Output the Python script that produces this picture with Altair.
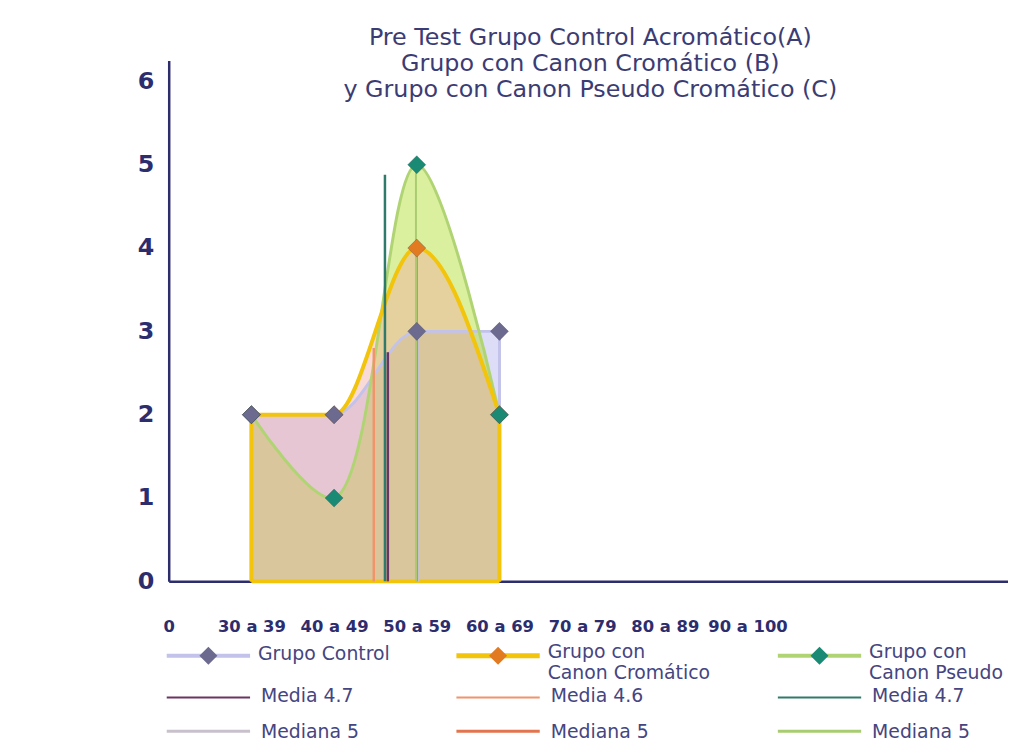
import json
import altair as alt
import pandas as pd

# ---------------- data ----------------
x_labels = ["0", "30 a 39", "40 a 49", "50 a 59", "60 a 69", "70 a 79", "80 a 89", "90 a 100"]
x_index = [1, 2, 3, 4]
control_vals = [2, 2, 3, 3]
cromatico_vals = [2, 2, 4, 2]
pseudo_vals = [2, 1, 5, 2]

mean_labels = ["Media 4.7", "Media 4.6", "Media 4.7"]
mean_pos = [2.65, 2.48, 2.615]
mean_top = [2.75, 2.8, 4.88]
median_labels = ["Mediana 5", "Mediana 5", "Mediana 5"]
median_pos = [3.02, 3.0, 2.99]
median_top = [3.0, 4.0, 4.95]

title_lines = ["Pre Test Grupo Control Acromático(A)",
               "Grupo con Canon Cromático (B)",
               "y Grupo con Canon Pseudo Cromático (C)"]
legend_group_text = [["Grupo Control"], ["Grupo con", "Canon Cromático"], ["Grupo con", "Canon Pseudo"]]

# ---------------- style ----------------
NAVY = "#2d2d6e"
TEXT = "#45457f"
line_col = ["#c2c2ea", "#f2c40c", "#b0d474"]
marker_col = ["#6d6a90", "#e27a22", "#1b8a74"]
fill_col = ["#c6c6f4", "#f2a8a0", "#afde28"]
fill_op = [0.6, 0.42, 0.45]
mean_col = ["#6a3464", "#f0946a", "#2f7a6a"]
median_col = ["#c8c0cc", "#e2744e", "#a8cc70"]
interp = ["monotone", "monotone", "catmull-rom"]

W, H = 846, 525
XMAX, YMAX = 10.15, 6.25
xs = alt.Scale(domain=[0, XMAX], nice=False, zero=False)
ys = alt.Scale(domain=[0, YMAX], nice=False)


def px_x(p):  # pixel offset from plot left -> data units
    return p / W * XMAX


def px_y(p):  # pixel offset from plot top -> data units
    return (H - p) / H * YMAX


x_axis = alt.Axis(values=list(range(8)),
                  labelExpr=json.dumps(x_labels) + "[datum.value]",
                  ticks=False, tickSize=0, labelPadding=38,
                  labelFont="DejaVu Sans", labelFontWeight="bold",
                  labelFontSize=16.5, labelColor=NAVY,
                  domainColor=NAVY, domainWidth=2.5, grid=False, title=None,
                  labelFlush=False, labelOverlap=False)
y_axis = alt.Axis(values=list(range(7)), ticks=False, tickSize=0, labelPadding=15,
                  labelFont="DejaVu Sans", labelFontWeight="bold", labelFontSize=24,
                  labelColor=NAVY, domainColor=NAVY, domainWidth=2.5, grid=False,
                  title=None, labelBaseline="middle")

X = alt.X("x:Q", scale=xs, axis=x_axis)
Y = alt.Y("y:Q", scale=ys, axis=y_axis)

series = [pd.DataFrame({"x": x_index, "y": v}) for v in (control_vals, cromatico_vals, pseudo_vals)]

layers = []
# areas (order: control, pseudo, cromatico)
for i in [0, 2, 1]:
    layers.append(alt.Chart(series[i]).mark_area(
        interpolate=interp[i], color=fill_col[i], opacity=fill_op[i]
    ).encode(x=X, y=Y))

# vertical edges of the filled shapes
for i in [0, 2, 1]:
    df = series[i]
    edge = pd.DataFrame({"x": [df.x.iloc[0], df.x.iloc[-1]],
                         "y": [df.y.iloc[0], df.y.iloc[-1]], "y0": [0, 0]})
    layers.append(alt.Chart(edge).mark_rule(
        color=line_col[i], strokeWidth=4 if i == 1 else 3
    ).encode(x=X, y=Y, y2="y0:Q"))
# bottom edge of cromatico
bottom = pd.DataFrame({"x": [x_index[0]], "x2": [x_index[-1]], "y": [0]})
layers.append(alt.Chart(bottom).mark_rule(color=line_col[1], strokeWidth=4).encode(
    x=X, x2="x2:Q", y=Y))

# lines
for i in [0, 2, 1]:
    layers.append(alt.Chart(series[i]).mark_line(
        interpolate=interp[i], color=line_col[i], strokeWidth=4 if i == 1 else 3
    ).encode(x=X, y=Y))

# median lines then mean lines
for i in range(3):
    stat = pd.DataFrame({"x": [median_pos[i]], "y": [median_top[i]], "y0": [0]})
    layers.append(alt.Chart(stat).mark_rule(
        color=median_col[i], strokeWidth=2).encode(x=X, y=Y, y2="y0:Q"))
for i in range(3):
    stat = pd.DataFrame({"x": [mean_pos[i]], "y": [mean_top[i]], "y0": [0]})
    layers.append(alt.Chart(stat).mark_rule(
        color=mean_col[i], strokeWidth=2.5).encode(x=X, y=Y, y2="y0:Q"))

# markers (order: cromatico, pseudo, control)
for i in [1, 2, 0]:
    layers.append(alt.Chart(series[i]).mark_point(
        shape="diamond", filled=True, size=330, opacity=1,
        color=marker_col[i], stroke="#3a3a4a", strokeWidth=0.6, strokeOpacity=0.5
    ).encode(x=X, y=Y))

# title (three centred lines)
tdf = pd.DataFrame({"t": title_lines, "x": [px_x(425)] * 3,
                    "y": [px_y(-23), px_y(4), px_y(30)]})
layers.append(alt.Chart(tdf).mark_text(
    font="DejaVu Sans", fontSize=24, color="#3c3c74", align="center", baseline="middle"
).encode(x=X, y=Y, text="t:N"))

# legend
col_x = [-2, 290, 614]
seg = 84
row_line_y = [600, 642, 676]
leg_lines, leg_text, leg_marks = [], [], []
for c in range(3):
    x0, x1 = px_x(col_x[c]), px_x(col_x[c] + seg)
    leg_lines.append({"x": x0, "x2": x1, "y": px_y(row_line_y[0]), "col": line_col[c], "w": 5 if c == 1 else 4})
    leg_marks.append({"x": px_x(col_x[c] + seg / 2), "y": px_y(row_line_y[0]), "col": marker_col[c]})
    leg_lines.append({"x": x0, "x2": x1, "y": px_y(row_line_y[1]), "col": mean_col[c], "w": 2})
    leg_lines.append({"x": x0, "x2": x1, "y": px_y(row_line_y[2]), "col": median_col[c], "w": 3})
    grp = legend_group_text[c]
    for k, line in enumerate(grp):
        ty = 598 if len(grp) == 1 else 596 + 21 * k
        leg_text.append({"t": line, "x": px_x(col_x[c] + 92), "y": px_y(ty)})
    leg_text.append({"t": mean_labels[c], "x": px_x(col_x[c] + 95), "y": px_y(641)})
    leg_text.append({"t": median_labels[c], "x": px_x(col_x[c] + 95), "y": px_y(677)})

ll = pd.DataFrame(leg_lines)
layers.append(alt.Chart(ll).mark_rule().encode(
    x=X, x2="x2:Q", y=Y,
    color=alt.Color("col:N", scale=None), strokeWidth=alt.StrokeWidth("w:Q", scale=None)))
lm = pd.DataFrame(leg_marks)
layers.append(alt.Chart(lm).mark_point(shape="diamond", filled=True, size=330, opacity=1).encode(
    x=X, y=Y, color=alt.Color("col:N", scale=None)))
lt = pd.DataFrame(leg_text)
layers.append(alt.Chart(lt).mark_text(
    font="DejaVu Sans", fontSize=19, color=TEXT, align="left", baseline="middle"
).encode(x=X, y=Y, text="t:N"))

chart = alt.layer(*layers).properties(
    width=W, height=H,
    autosize=alt.AutoSizeParams(type="none"),
    padding={"left": 162, "top": 50, "right": 0, "bottom": 163},
).configure(background="white", view={"stroke": "transparent"})

chart.save("out.html", embed_options={"renderer": "svg", "actions": False})
